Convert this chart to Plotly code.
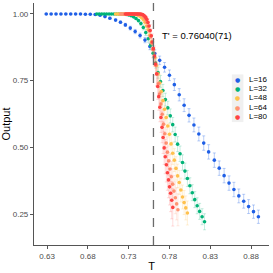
import plotly.graph_objects as go

# ---------------- data ----------------
labels = ["L=16", "L=32", "L=48", "L=64", "L=80"]
colors = ["#1f5fe6", "#00b377", "#ffc14d", "#ff9473", "#ff4242"]
err_colors = ["rgba(31,95,230,0.30)", "rgba(0,179,119,0.22)", "rgba(255,193,77,0.22)",
              "rgba(255,148,115,0.20)", "rgba(255,66,66,0.18)"]

T16 = [0.629, 0.635, 0.641, 0.647, 0.653, 0.659, 0.665, 0.671, 0.677, 0.683, 0.689, 0.695,
       0.701, 0.707, 0.714, 0.720, 0.726, 0.732, 0.738, 0.744, 0.750, 0.756, 0.762, 0.768,
       0.774, 0.780, 0.786, 0.792, 0.798, 0.804, 0.810, 0.816, 0.822, 0.828, 0.835, 0.841,
       0.847, 0.853, 0.859, 0.865, 0.871, 0.877, 0.883, 0.889]
Y16 = [1.000, 1.000, 1.000, 1.000, 1.000, 1.000, 1.000, 1.000, 0.999, 0.999, 0.998, 0.995,
       0.990, 0.984, 0.977, 0.969, 0.959, 0.947, 0.934, 0.919, 0.902, 0.878, 0.852, 0.826,
       0.800, 0.770, 0.735, 0.697, 0.658, 0.620, 0.584, 0.550, 0.516, 0.483, 0.452, 0.422,
       0.394, 0.366, 0.342, 0.318, 0.298, 0.278, 0.259, 0.240]
E16 = [0.000, 0.000, 0.000, 0.000, 0.000, 0.000, 0.000, 0.001, 0.001, 0.001, 0.002, 0.002,
       0.003, 0.004, 0.004, 0.005, 0.006, 0.007, 0.008, 0.009, 0.010, 0.012, 0.014, 0.016,
       0.018, 0.020, 0.022, 0.023, 0.024, 0.025, 0.026, 0.026, 0.027, 0.027, 0.027, 0.027,
       0.027, 0.027, 0.027, 0.026, 0.026, 0.026, 0.025, 0.025]

T32 = [0.691, 0.694, 0.697, 0.700, 0.703, 0.706, 0.709, 0.712, 0.715, 0.718, 0.721, 0.724,
       0.727, 0.730, 0.733, 0.736, 0.739, 0.742, 0.745, 0.748, 0.751, 0.754, 0.757, 0.760,
       0.763, 0.766, 0.769, 0.772, 0.775, 0.778, 0.781, 0.784, 0.787, 0.790, 0.793, 0.796,
       0.799, 0.802, 0.805, 0.808, 0.811, 0.814, 0.817, 0.820, 0.823]
Y32 = [1.000, 1.000, 1.000, 1.000, 1.000, 1.000, 1.000, 1.000, 1.000, 1.000, 1.000, 0.999,
       0.998, 0.996, 0.993, 0.989, 0.983, 0.975, 0.964, 0.949, 0.930, 0.907, 0.883, 0.853,
       0.816, 0.780, 0.747, 0.713, 0.679, 0.648, 0.618, 0.585, 0.548, 0.512, 0.476, 0.443,
       0.411, 0.383, 0.356, 0.330, 0.304, 0.281, 0.260, 0.240, 0.221]
E32 = [0.000, 0.000, 0.000, 0.000, 0.000, 0.000, 0.000, 0.000, 0.000, 0.000, 0.000, 0.001,
       0.001, 0.002, 0.002, 0.003, 0.004, 0.005, 0.007, 0.009, 0.011, 0.013, 0.015, 0.017,
       0.019, 0.021, 0.022, 0.023, 0.024, 0.025, 0.026, 0.027, 0.028, 0.028, 0.029, 0.029,
       0.030, 0.030, 0.030, 0.030, 0.030, 0.030, 0.030, 0.030, 0.030]

T48 = [0.714, 0.716, 0.718, 0.720, 0.722, 0.724, 0.726, 0.728, 0.730, 0.732, 0.734, 0.736,
       0.738, 0.740, 0.742, 0.744, 0.746, 0.748, 0.750, 0.752, 0.754, 0.756, 0.758, 0.760,
       0.762, 0.764, 0.766, 0.768, 0.770, 0.772, 0.774, 0.776, 0.778, 0.780, 0.782, 0.784,
       0.786, 0.788, 0.790, 0.792, 0.794, 0.796, 0.798, 0.800, 0.802]
Y48 = [1.000, 1.000, 1.000, 1.000, 1.000, 1.000, 1.000, 1.000, 1.000, 1.000, 0.999, 0.999,
       0.998, 0.997, 0.994, 0.991, 0.986, 0.979, 0.969, 0.955, 0.941, 0.920, 0.895, 0.868,
       0.837, 0.807, 0.775, 0.741, 0.709, 0.675, 0.643, 0.612, 0.580, 0.549, 0.513, 0.478,
       0.452, 0.421, 0.393, 0.368, 0.340, 0.314, 0.293, 0.273, 0.254]
E48 = [0.000, 0.000, 0.000, 0.000, 0.000, 0.000, 0.000, 0.000, 0.000, 0.000, 0.001, 0.001,
       0.002, 0.002, 0.003, 0.004, 0.005, 0.007, 0.009, 0.012, 0.015, 0.018, 0.021, 0.024,
       0.027, 0.029, 0.031, 0.033, 0.035, 0.036, 0.037, 0.038, 0.039, 0.040, 0.041, 0.042,
       0.043, 0.044, 0.044, 0.045, 0.045, 0.045, 0.045, 0.045, 0.045]

T64 = [0.7200, 0.7216, 0.7232, 0.7248, 0.7264, 0.7280, 0.7296, 0.7312, 0.7328, 0.7344,
       0.7360, 0.7376, 0.7392, 0.7408, 0.7424, 0.7440, 0.7456, 0.7472, 0.7488, 0.7504,
       0.7520, 0.7536, 0.7552, 0.7568, 0.7584, 0.7600, 0.7616, 0.7632, 0.7648, 0.7664,
       0.7680, 0.7696, 0.7712, 0.7728, 0.7744, 0.7760, 0.7776, 0.7792, 0.7808, 0.7824,
       0.7840, 0.7856, 0.7872, 0.7888, 0.7904]
Y64 = [1.000, 1.000, 1.000, 1.000, 1.000, 1.000, 1.000, 1.000, 1.000, 1.000,
       1.000, 1.000, 1.000, 1.000, 0.999, 0.998, 0.996, 0.993, 0.988, 0.980,
       0.969, 0.954, 0.936, 0.914, 0.890, 0.866, 0.840, 0.808, 0.774, 0.738,
       0.700, 0.662, 0.624, 0.587, 0.551, 0.516, 0.482, 0.450, 0.419, 0.390,
       0.362, 0.336, 0.311, 0.288, 0.266]
E64 = [0.000, 0.000, 0.000, 0.000, 0.000, 0.000, 0.000, 0.000, 0.000, 0.000,
       0.000, 0.000, 0.000, 0.001, 0.001, 0.002, 0.003, 0.004, 0.006, 0.009,
       0.012, 0.016, 0.020, 0.024, 0.028, 0.031, 0.034, 0.037, 0.040, 0.042,
       0.044, 0.046, 0.048, 0.050, 0.052, 0.053, 0.054, 0.055, 0.056, 0.057,
       0.058, 0.059, 0.060, 0.060, 0.060]

T80 = [0.7260, 0.7273, 0.7286, 0.7300, 0.7313, 0.7326, 0.7339, 0.7352, 0.7366, 0.7379,
       0.7392, 0.7405, 0.7418, 0.7432, 0.7445, 0.7458, 0.7471, 0.7484, 0.7498, 0.7511,
       0.7524, 0.7537, 0.7550, 0.7564, 0.7577, 0.7590, 0.7603, 0.7616, 0.7630, 0.7643,
       0.7656, 0.7669, 0.7682, 0.7696, 0.7709, 0.7722, 0.7735, 0.7748, 0.7762, 0.7775,
       0.7788, 0.7801, 0.7814, 0.7828, 0.7841]
Y80 = [1.000, 1.000, 1.000, 1.000, 1.000, 1.000, 1.000, 1.000, 1.000, 1.000,
       1.000, 1.000, 1.000, 1.000, 1.000, 0.999, 0.998, 0.995, 0.991, 0.986,
       0.979, 0.968, 0.955, 0.938, 0.918, 0.895, 0.870, 0.842, 0.812, 0.776,
       0.728, 0.690, 0.650, 0.612, 0.575, 0.537, 0.498, 0.465, 0.435, 0.405,
       0.378, 0.352, 0.328, 0.302, 0.275]
E80 = [0.000, 0.000, 0.000, 0.000, 0.000, 0.000, 0.000, 0.000, 0.000, 0.000,
       0.000, 0.000, 0.000, 0.000, 0.001, 0.001, 0.002, 0.003, 0.005, 0.007,
       0.010, 0.014, 0.018, 0.022, 0.026, 0.030, 0.034, 0.038, 0.042, 0.045,
       0.048, 0.051, 0.054, 0.056, 0.058, 0.060, 0.062, 0.064, 0.065, 0.066,
       0.067, 0.068, 0.069, 0.070, 0.070]

T_critical = 0.7604
T_critical_label = "T' = 0.76040(71)"
x_ticks = [0.63, 0.68, 0.73, 0.78, 0.83, 0.88]
x_tick_labels = ["0.63", "0.68", "0.73", "0.78", "0.83", "0.88"]
y_ticks = [0.25, 0.50, 0.75, 1.00]
y_tick_labels = ["0.25", "0.50", "0.75", "1.00"]

series = [(T16, Y16, E16), (T32, Y32, E32), (T48, Y48, E48), (T64, Y64, E64), (T80, Y80, E80)]

FONT = "Liberation Sans, Arial, sans-serif"
AXC = "#555555"

fig = go.Figure()
for (t, y, e), lab, c, ec in zip(series, labels, colors, err_colors):
    fig.add_trace(go.Scatter(
        x=t, y=y, mode="markers", name=lab,
        marker=dict(color=c, size=3.6, line=dict(width=0)),
        error_y=dict(type="data", array=e, visible=True, color=ec, thickness=1, width=1.5),
    ))

# critical temperature line
fig.add_shape(type="line", xref="x", yref="paper", x0=T_critical, x1=T_critical, y0=0, y1=1,
              line=dict(color="#6b6b6b", width=1.3, dash="dash"))
fig.add_annotation(xref="paper", yref="paper", x=0.535, y=0.866, xanchor="left", yanchor="middle",
                   text=T_critical_label, showarrow=False, font=dict(family=FONT, size=9.5, color="black"))

# manual legend (ggplot style)
fig.add_shape(type="rect", xref="paper", yref="paper", x0=0.842, x1=0.891, y0=0.508, y1=0.705,
              line=dict(width=0), fillcolor="#f0f0f0", layer="below")
leg_y = [0.684, 0.646, 0.608, 0.568, 0.532]
for lab, c, yy in zip(labels, colors, leg_y):
    fig.add_annotation(xref="paper", yref="paper", x=0.866, y=yy, xanchor="center", yanchor="middle",
                       text="●", showarrow=False, font=dict(family="DejaVu Sans", size=6, color=c))
    fig.add_annotation(xref="paper", yref="paper", x=0.905, y=yy, xanchor="left", yanchor="middle",
                       text=lab, showarrow=False, font=dict(family=FONT, size=8, color="black"))

fig.update_layout(
    width=273, height=273,
    margin=dict(l=33, r=4, t=3, b=26),
    plot_bgcolor="white", paper_bgcolor="white",
    showlegend=False,
    font=dict(family=FONT),
    xaxis=dict(range=[0.614, 0.902], tickvals=x_ticks, ticktext=x_tick_labels,
               showgrid=False, zeroline=False, showline=True, linecolor=AXC, linewidth=1.2,
               ticks="outside", ticklen=3, tickcolor=AXC, tickwidth=1,
               tickfont=dict(size=8, color="#4d4d4d", family=FONT),
               title=dict(text="T", font=dict(size=11, color="black", family=FONT), standoff=2)),
    yaxis=dict(range=[0.134, 1.041], tickvals=y_ticks, ticktext=y_tick_labels,
               showgrid=False, zeroline=False, showline=True, linecolor=AXC, linewidth=1.2,
               ticks="outside", ticklen=3, tickcolor=AXC, tickwidth=1,
               tickfont=dict(size=8, color="#4d4d4d", family=FONT),
               title=dict(text="Output", font=dict(size=11, color="black", family=FONT), standoff=2)),
)

fig.write_html("out.html", config={"displayModeBar": False},
               post_script="document.body.style.margin='0';document.body.style.overflow='hidden';")
